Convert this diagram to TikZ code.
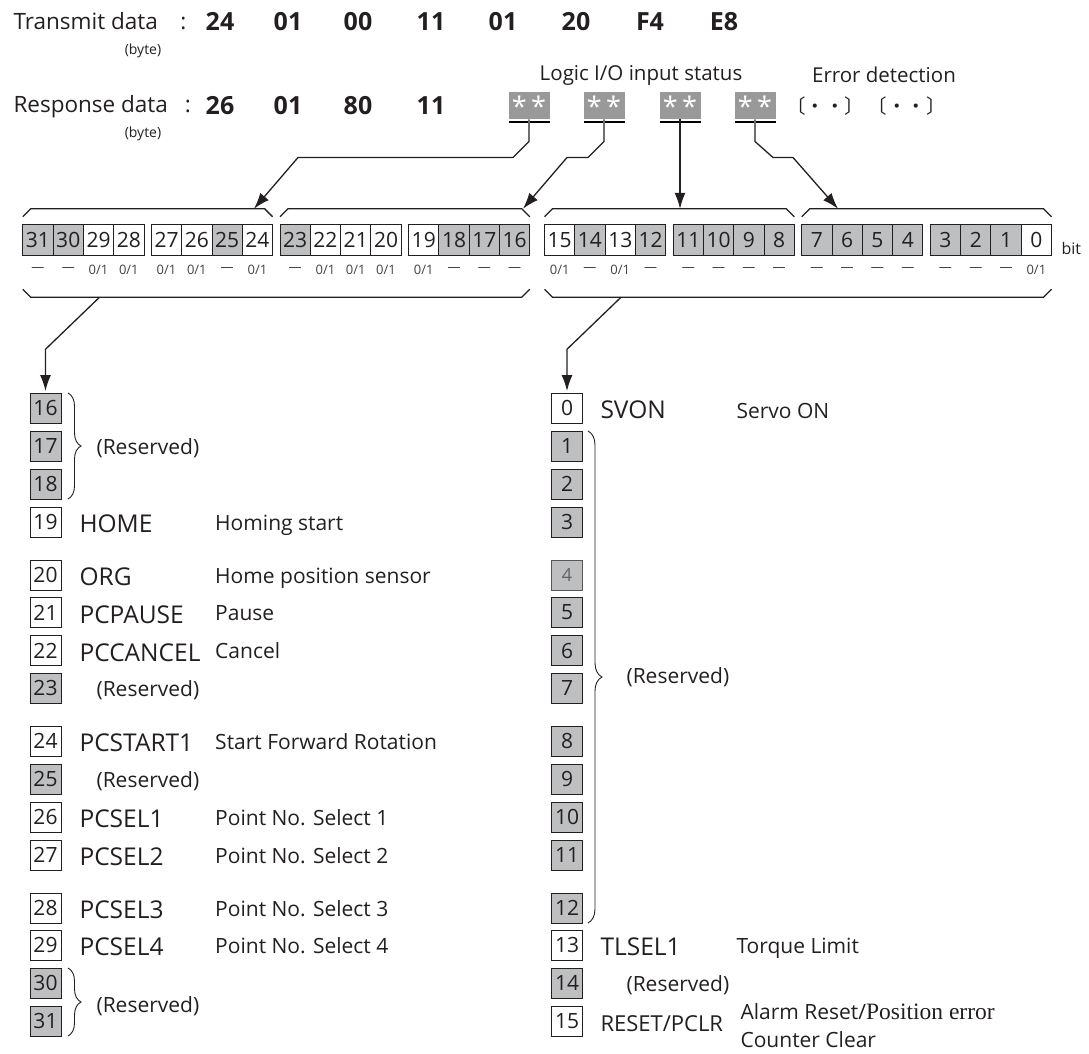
\documentclass[tikz,border=0pt]{standalone}
\usepackage{fontspec}
\setmainfont{Open Sans}
\newfontfamily\cjk{Noto Sans CJK JP}
\newfontfamily\posfont{Liberation Serif}
\usetikzlibrary{positioning, arrows.meta, calc, decorations.pathreplacing}
\definecolor{ink}{RGB}{35,31,32}
\definecolor{cellgray}{RGB}{190,191,193}
\definecolor{stargray}{RGB}{153,153,153}

\begin{document}
\begin{tikzpicture}[x=1pt, y=-1pt,
		every node/.style={text=ink},
		head/.style={anchor=base west, font=\fontsize{22.5}{22.5}\selectfont},
		num/.style={anchor=base, font=\fontsize{25}{25}\selectfont\bfseries},
		unit/.style={font=\fontsize{14}{14}\selectfont},
		note/.style={font=\fontsize{20.5}{20.5}\selectfont},
		stars/.style={fill=stargray, minimum width=41pt, minimum height=27pt, inner sep=0, outer sep=0, text=white, font=\fontsize{27}{27}\selectfont},
		bitw/.style={draw=ink, line width=0.9pt, fill=white, minimum width=30.3pt, minimum height=30.5pt, inner sep=0, outer sep=0, font=\fontsize{21}{21}\selectfont},
		bitg/.style={bitw, fill=cellgray},
		val/.style={font=\fontsize{13}{13}\selectfont, text=ink!85},
		brk/.style={line width=1.3pt, draw=ink},
		arrow/.style={-{Latex[length=16pt,width=11pt]}, line width=1.3pt, draw=ink},
		nbw/.style={draw=ink, line width=0.9pt, fill=white, minimum width=31pt, minimum height=30pt, inner sep=0, outer sep=0, font=\fontsize{21}{21}\selectfont},
		nbg/.style={nbw, fill=cellgray},
		sig/.style={anchor=base west, font=\fontsize{24.5}{24.5}\selectfont},
		desc/.style={anchor=base west, font=\fontsize{21}{28}\selectfont},
		brc/.style={decorate, decoration={brace, amplitude=13pt}, line width=0.9pt, draw=ink}
		]
		\useasboundingbox (0,0) rectangle (1089,1054);
		
		% Transmit row
		\node[head] (tx) at (10,30) {Transmit data\hspace{1em}:};
		\node[num] (n1) at (220,31) {24};
		\node[num] (n2) at (288,31) {01};
		\node[num] (n3) at (358,31) {00};
		\node[num] (n4) at (431,31) {11};
		\node[num] (n5) at (503,31) {01};
		\node[num] (n6) at (576,31) {20};
		\node[num] (n7) at (650,31) {F4};
		\node[num] (n8) at (724,31) {E8};
		\node[unit] (tb) at (143,51) {(byte)};
		
		% Response row
		\node[note] (lio) at (641,75) {Logic I/O input status};
		\node[note] (err) at (884,75) {Error detection};
		\node[head] (rx) at (10,113) {Response data\hspace{0.75em}:};
		\node[num] (d1) at (220,114) {26};
		\node[num] (d2) at (288,114) {01};
		\node[num] (d3) at (358,114) {80};
		\node[num] (d4) at (431,114) {11};
		\node[stars] (b1) at (529,106) {*\,*};
		\node[stars] (b2) at (604,106) {*\,*};
		\node[stars] (b3) at (680,106) {*\,*};
		\node[stars] (b4) at (755,106) {*\,*};
		\node[font=\cjk\fontsize{19.5}{19.5}\selectfont] (ed) at (866,106) {〔・・〕\,〔・・〕};
		\node[unit] (rb) at (143,134) {(byte)};
		\draw[line width=2.5pt] ([yshift=-2.5pt]b1.south west) -- ([xshift=-1pt,yshift=-2.5pt]b1.south) ([xshift=1pt,yshift=-2.5pt]b1.south) -- ([yshift=-2.5pt]b1.south east);
		\draw[line width=2.5pt] ([yshift=-2.5pt]b2.south west) -- ([xshift=-1pt,yshift=-2.5pt]b2.south) ([xshift=1pt,yshift=-2.5pt]b2.south) -- ([yshift=-2.5pt]b2.south east);
		\draw[line width=2.5pt] ([yshift=-2.5pt]b3.south west) -- ([xshift=-1pt,yshift=-2.5pt]b3.south) ([xshift=1pt,yshift=-2.5pt]b3.south) -- ([yshift=-2.5pt]b3.south east);
		\draw[line width=2.5pt] ([yshift=-2.5pt]b4.south west) -- ([xshift=-1pt,yshift=-2.5pt]b4.south) ([xshift=1pt,yshift=-2.5pt]b4.south) -- ([yshift=-2.5pt]b4.south east);
		
		% Bit cells, bits 31 to 16
		\node[bitg] (c31) at (37.95,240) {31};
		\node[bitg, right=0pt of c31] (c30) {30};
		\node[bitw, right=0pt of c30] (c29) {29};
		\node[bitw, right=0pt of c29] (c28) {28};
		\node[bitw, right=7.4pt of c28] (c27) {27};
		\node[bitw, right=0pt of c27] (c26) {26};
		\node[bitg, right=0pt of c26] (c25) {25};
		\node[bitw, right=0pt of c25] (c24) {24};
		\node[bitg, right=7.4pt of c24] (c23) {23};
		\node[bitw, right=0pt of c23] (c22) {22};
		\node[bitw, right=0pt of c22] (c21) {21};
		\node[bitw, right=0pt of c21] (c20) {20};
		\node[bitw, right=7.4pt of c20] (c19) {19};
		\node[bitg, right=0pt of c19] (c18) {18};
		\node[bitg, right=0pt of c18] (c17) {17};
		\node[bitg, right=0pt of c17] (c16) {16};
		
		% Bit cells, bits 15 to 0
		\node[bitw, right=14.7pt of c16] (c15) {15};
		\node[bitg, right=0pt of c15] (c14) {14};
		\node[bitw, right=0pt of c14] (c13) {13};
		\node[bitg, right=0pt of c13] (c12) {12};
		\node[bitg, right=7.4pt of c12] (c11) {11};
		\node[bitg, right=0pt of c11] (c10) {10};
		\node[bitg, right=0pt of c10] (c9) {9};
		\node[bitg, right=0pt of c9] (c8) {8};
		\node[bitg, right=7.4pt of c8] (c7) {7};
		\node[bitg, right=0pt of c7] (c6) {6};
		\node[bitg, right=0pt of c6] (c5) {5};
		\node[bitg, right=0pt of c5] (c4) {4};
		\node[bitg, right=7.4pt of c4] (c3) {3};
		\node[bitg, right=0pt of c3] (c2) {2};
		\node[bitg, right=0pt of c2] (c1) {1};
		\node[bitw, right=0pt of c1] (c0) {0};
		\node[anchor=base west, font=\fontsize{16}{16}\selectfont] (bitlbl) at (1058,254) {bit};
		
		% Values
		\node[val, yshift=-30pt] at (c31) {\textemdash};
		\node[val, yshift=-30pt] at (c30) {\textemdash};
		\node[val, yshift=-30pt] at (c29) {0/1};
		\node[val, yshift=-30pt] at (c28) {0/1};
		\node[val, yshift=-30pt] at (c27) {0/1};
		\node[val, yshift=-30pt] at (c26) {0/1};
		\node[val, yshift=-30pt] at (c25) {\textemdash};
		\node[val, yshift=-30pt] at (c24) {0/1};
		\node[val, yshift=-30pt] at (c23) {\textemdash};
		\node[val, yshift=-30pt] at (c22) {0/1};
		\node[val, yshift=-30pt] at (c21) {0/1};
		\node[val, yshift=-30pt] at (c20) {0/1};
		\node[val, yshift=-30pt] at (c19) {0/1};
		\node[val, yshift=-30pt] at (c18) {\textemdash};
		\node[val, yshift=-30pt] at (c17) {\textemdash};
		\node[val, yshift=-30pt] at (c16) {\textemdash};
		\node[val, yshift=-30pt] at (c15) {0/1};
		\node[val, yshift=-30pt] at (c14) {\textemdash};
		\node[val, yshift=-30pt] at (c13) {0/1};
		\node[val, yshift=-30pt] at (c12) {\textemdash};
		\node[val, yshift=-30pt] at (c11) {\textemdash};
		\node[val, yshift=-30pt] at (c10) {\textemdash};
		\node[val, yshift=-30pt] at (c9) {\textemdash};
		\node[val, yshift=-30pt] at (c8) {\textemdash};
		\node[val, yshift=-30pt] at (c7) {\textemdash};
		\node[val, yshift=-30pt] at (c6) {\textemdash};
		\node[val, yshift=-30pt] at (c5) {\textemdash};
		\node[val, yshift=-30pt] at (c4) {\textemdash};
		\node[val, yshift=-30pt] at (c3) {\textemdash};
		\node[val, yshift=-30pt] at (c2) {\textemdash};
		\node[val, yshift=-30pt] at (c1) {\textemdash};
		\node[val, yshift=-30pt] at (c0) {0/1};
		
		% Upper brackets
		\draw[brk] ([yshift=8pt]c31.north west) -- ++(8,-8) -- ([xshift=-8pt,yshift=16pt]c24.north east) -- ++(8,8);
		\draw[brk] ([yshift=8pt]c23.north west) -- ++(8,-8) -- ([xshift=-8pt,yshift=16pt]c16.north east) -- ++(8,8);
		\draw[brk] ([yshift=8pt]c15.north west) -- ++(8,-8) -- ([xshift=-8pt,yshift=16pt]c8.north east) -- ++(8,8);
		\draw[brk] ([yshift=8pt]c7.north west) -- ++(8,-8) -- ([xshift=-8pt,yshift=16pt]c0.north east) -- ++(8,8);
		
		% Lower brackets
		\draw[brk] ([yshift=-34pt]c31.south west) -- ++(8,8) -- ([xshift=-8pt,yshift=-42pt]c16.south east) -- ++(8,-8);
		\draw[brk] ([yshift=-34pt]c15.south west) -- ++(8,8) -- ([xshift=-8pt,yshift=-42pt]c0.south east) -- ++(8,-8);
		
		% Arrows from the status bytes
		\coordinate (k1) at (254,208.75);
		\coordinate (k2) at (523,208.75);
		\coordinate (k3) at (680,208.75);
		\coordinate (k4) at (838,208.75);
		\draw[arrow] (b1.south) -- ++(0,22) -- ++(-16,16) -- ++(-215,0) -- (k1);
		\draw[arrow] (b2.south) -- ++(0,22) -- ++(-16,16) -- ++(-21,0) -- (k2);
		\draw[arrow] (b3.south) -- (k3);
		\draw[arrow] (b4.south) -- ++(0,22) -- ++(18,16) -- ++(20,0) -- (k4);
		
		% Left list, bits 16 to 31
		\node[nbg] (l16) at (45.5,408) {16};
		\node[nbg] (l17) at (45.5,446) {17};
		\node[nbg] (l18) at (45.5,484) {18};
		\node[nbw] (l19) at (45.5,522) {19};
		\node[nbw] (l20) at (45.5,575) {20};
		\node[nbw] (l21) at (45.5,612.5) {21};
		\node[nbw] (l22) at (45.5,650.5) {22};
		\node[nbg] (l23) at (45.5,688) {23};
		\node[nbw] (l24) at (45.5,741) {24};
		\node[nbg] (l25) at (45.5,779) {25};
		\node[nbw] (l26) at (45.5,817) {26};
		\node[nbw] (l27) at (45.5,855) {27};
		\node[nbw] (l28) at (45.5,908) {28};
		\node[nbw] (l29) at (45.5,945) {29};
		\node[nbg] (l30) at (45.5,983) {30};
		\node[nbg] (l31) at (45.5,1021) {31};
		
		\draw[brc] ([xshift=7pt]l16.north east) -- ([xshift=7pt]l18.south east);
		\node[desc] at (93,454) {(Reserved)};
		\node[sig] at (76,532.5) {HOME};
		\node[desc] at (211.7,530) {Homing start};
		\node[sig] at (76,585.5) {ORG};
		\node[desc] at (211.7,583) {Home position sensor};
		\node[sig] at (76,623) {PCPAUSE};
		\node[desc] at (211.7,620.5) {Pause};
		\node[sig] at (76,661) {PCCANCEL};
		\node[desc] at (211.7,658.5) {Cancel};
		\node[desc] at (93,696.5) {(Reserved)};
		\node[sig] at (76,751.5) {PCSTART1};
		\node[desc] at (211.7,749) {Start Forward Rotation};
		\node[desc] at (93,787.5) {(Reserved)};
		\node[sig] at (76,827.5) {PCSEL1};
		\node[desc] at (211.7,825) {Point No. Select 1};
		\node[sig] at (76,865.5) {PCSEL2};
		\node[desc] at (211.7,863) {Point No. Select 2};
		\node[sig] at (76,918.5) {PCSEL3};
		\node[desc] at (211.7,916) {Point No. Select 3};
		\node[sig] at (76,955.5) {PCSEL4};
		\node[desc] at (211.7,953) {Point No. Select 4};
		\draw[brc] ([xshift=7pt]l30.north east) -- ([xshift=7pt]l31.south east);
		\node[desc] at (93,1012) {(Reserved)};
		
		% Right list, bits 0 to 15
		\node[nbw] (r0) at (567,408) {0};
		\node[nbg] (r1) at (567,446) {1};
		\node[nbg] (r2) at (567,484) {2};
		\node[nbg] (r3) at (567,522) {3};
		\node[nbg, draw=ink!75, text=ink!70, font=\fontsize{18}{18}\selectfont] (r4) at (567,575) {4};
		\node[nbg] (r5) at (567,612.5) {5};
		\node[nbg] (r6) at (567,650.5) {6};
		\node[nbg] (r7) at (567,688) {7};
		\node[nbg] (r8) at (567,741) {8};
		\node[nbg] (r9) at (567,779) {9};
		\node[nbg] (r10) at (567,817) {10};
		\node[nbg] (r11) at (567,855) {11};
		\node[nbg] (r12) at (567,908) {12};
		\node[nbw] (r13) at (567,945) {13};
		\node[nbg] (r14) at (567,983) {14};
		\node[nbw] (r15) at (567,1021) {15};
		
		\node[sig] at (597,418.5) {SVON};
		\node[desc] at (733,418) {Servo ON};
		\draw[brc, decoration={brace, amplitude=14pt}] ([xshift=5.5pt]r1.north east) -- ([xshift=5.5pt]r12.south east);
		\node[desc] at (623,683) {(Reserved)};
		\node[sig] at (597,955.5) {TLSEL1};
		\node[desc] at (733,953) {Torque Limit};
		\node[desc] at (623,991.5) {(Reserved)};
		\node[sig, font=\fontsize{22}{22}\selectfont] at (597,1031.5) {RESET/PCLR};
		\node[desc, align=left] at (737,1047) {Alarm Reset/{\posfont\fontsize{23.5}{28}\selectfont Position error}\\Counter Clear};
		
		% Arrows down to the lists
		\coordinate (h1) at (99.5,297.25);
		\coordinate (h2) at (621,297.25);
		\draw[arrow, shorten >=2pt] (h1) -- ++(-54,52) -- (l16);
		\draw[arrow, shorten >=2pt] (h2) -- ++(-54,52) -- (r0);
		
	\end{tikzpicture}
\end{document}
